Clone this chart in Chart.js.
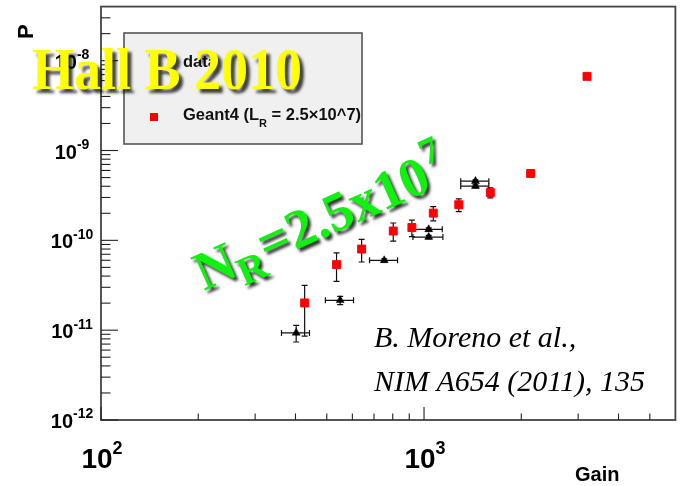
<!DOCTYPE html>
<html>
<head>
<meta charset="utf-8">
<script src="https://cdn.jsdelivr.net/npm/chart.js@4.4.1/dist/chart.umd.min.js"></script>
<style>
  html, body { margin: 0; padding: 0; background: #fff; }
  canvas { display: block; }
</style>
</head>
<body>
<canvas id="c" width="682" height="486"></canvas>
<script>
// Geant4 simulation, L_R = 2.5e7 (red squares, vertical errors only)
const g4Gain = [427, 536, 641, 803, 917, 1068, 1281, 1604, 2138, 3195];
const g4P    = [2.01e-11, 5.37e-11, 8.0e-11, 1.27e-10, 1.39e-10, 2.01e-10, 2.49e-10, 3.40e-10, 5.55e-10, 6.69e-9];
const g4PErr = [1.15e-11, 1.87e-11, 2.26e-11, 2.9e-11, 2.9e-11, 3.6e-11, 4.0e-11, 4.3e-11, 3.0e-11, 0];

// Measured data (black triangles, errors in both gain and P)
const dataGain    = [402, 550, 753, 1034, 1034, 1443, 1443];
const dataGainErr = [40, 55, 75, 105, 110, 144, 144];
const dataP       = [9.33e-12, 2.15e-11, 5.99e-11, 1.325e-10, 1.088e-10, 4.56e-10, 4.01e-10];
const dataPErr    = [1.95e-12, 2.3e-12, 2.5e-12, 5e-12, 5e-12, 1.5e-11, 1.5e-11];

// Axis ranges and tick decades
const xRange = [100, 6000];
const yRange = [1e-12, 4e-8];
const xDecades = [2, 3];               // labelled powers of ten on the gain axis
const yDecades = [-12, -11, -10, -9, -8];
const minorSteps = [2, 3, 4, 5, 6, 7, 8, 9];

const legendLabels = ['data', 'Geant4 (L', 'R', ' = 2.5\u00d710^7)'];
const xTitle = 'Gain';
const yTitle = 'P';

const SANS = '"Liberation Sans", Arial, Helvetica, sans-serif';
const SERIF = '"Liberation Serif", "Times New Roman", serif';
const INK = '#222';

function pts(xs, ys) { return xs.map((x, i) => ({ x: x, y: ys[i] })); }

// Draws "10" with a raised exponent, centred horizontally on cx
function drawPower(ctx, exp, cx, midY, baseSize, expSize, rise) {
  ctx.font = 'bold ' + baseSize + 'px ' + SANS;
  const wb = ctx.measureText('10').width;
  ctx.font = 'bold ' + expSize + 'px ' + SANS;
  const we = ctx.measureText(String(exp)).width;
  const x0 = cx - (wb + we) / 2;
  ctx.textBaseline = 'middle';
  ctx.textAlign = 'left';
  ctx.font = 'bold ' + baseSize + 'px ' + SANS;
  ctx.fillText('10', x0, midY);
  ctx.font = 'bold ' + expSize + 'px ' + SANS;
  ctx.fillText(String(exp), x0 + wb, midY - rise);
}

const errorBars = {
  id: 'errorBars',
  beforeDatasetsDraw(chart) {
    const ctx = chart.ctx, xs = chart.scales.x, ys = chart.scales.y;
    const a = chart.chartArea;
    ctx.save();
    ctx.beginPath();
    ctx.rect(a.left, a.top, a.right - a.left, a.bottom - a.top);
    ctx.clip();
    ctx.strokeStyle = '#111';
    ctx.lineWidth = 1.2;
    const cap = 3;
    const seg = (x1, y1, x2, y2) => { ctx.beginPath(); ctx.moveTo(x1, y1); ctx.lineTo(x2, y2); ctx.stroke(); };
    // vertical errors
    const vert = (gx, py, pe) => {
      if (!pe) return;
      const x = xs.getPixelForValue(gx);
      const yt = ys.getPixelForValue(py + pe);
      const yb = ys.getPixelForValue(Math.max(py - pe, yRange[0]));
      seg(x, yt, x, yb);
      seg(x - cap, yt, x + cap, yt);
      seg(x - cap, yb, x + cap, yb);
    };
    g4Gain.forEach((g, i) => vert(g, g4P[i], g4PErr[i]));
    dataGain.forEach((g, i) => {
      vert(g, dataP[i], dataPErr[i]);
      const y = ys.getPixelForValue(dataP[i]);
      const xl = xs.getPixelForValue(g - dataGainErr[i]);
      const xr = xs.getPixelForValue(g + dataGainErr[i]);
      seg(xl, y, xr, y);
      seg(xl, y - cap, xl, y + cap);
      seg(xr, y - cap, xr, y + cap);
    });
    ctx.restore();
  }
};

const frameAxes = {
  id: 'frameAxes',
  beforeDraw(chart) {
    const ctx = chart.ctx;
    ctx.save();
    ctx.fillStyle = '#fff';
    ctx.fillRect(0, 0, chart.width, chart.height);
    ctx.restore();
  },
  afterDatasetsDraw(chart) {
    const ctx = chart.ctx, xs = chart.scales.x, ys = chart.scales.y;
    const a = chart.chartArea;
    ctx.save();
    ctx.strokeStyle = '#444';
    ctx.lineWidth = 1.8;
    ctx.strokeRect(a.left, a.top, a.right - a.left, a.bottom - a.top);
    ctx.lineWidth = 1.1;
    ctx.strokeStyle = INK;
    const line = (x1, y1, x2, y2) => { ctx.beginPath(); ctx.moveTo(x1, y1); ctx.lineTo(x2, y2); ctx.stroke(); };
    // gain axis ticks (inside the frame)
    for (let d = xDecades[0]; d <= xDecades[xDecades.length - 1] + 1; d++) {
      const base = Math.pow(10, d);
      if (base >= xRange[0] && base <= xRange[1]) {
        const x = xs.getPixelForValue(base);
        line(x, a.bottom, x, a.bottom - 13);
      }
      minorSteps.forEach(m => {
        const v = m * base;
        if (v > xRange[0] && v < xRange[1]) {
          const x = xs.getPixelForValue(v);
          line(x, a.bottom, x, a.bottom - 6.5);
        }
      });
    }
    // P axis ticks
    yDecades.forEach(d => {
      const base = Math.pow(10, d);
      const y = ys.getPixelForValue(base);
      line(a.left, y, a.left + 17, y);
      minorSteps.forEach(m => {
        const v = m * base;
        if (v < yRange[1]) {
          const yy = ys.getPixelForValue(v);
          line(a.left, yy, a.left + 9.5, yy);
        }
      });
    });
    // tick labels
    ctx.fillStyle = '#000';
    yDecades.forEach(d => {
      const y = ys.getPixelForValue(Math.pow(10, d));
      drawPower(ctx, d, 72, y + 2.5, 20, 14, 8);
    });
    xDecades.forEach(d => {
      const x = xs.getPixelForValue(Math.pow(10, d));
      drawPower(ctx, d, x + 1, 460, 28, 18, 11);
    });
    // axis titles
    ctx.font = 'bold 20px ' + SANS;
    ctx.textAlign = 'left';
    ctx.textBaseline = 'alphabetic';
    ctx.fillText(xTitle, 575, 481);
    ctx.save();
    ctx.translate(33, 39);
    ctx.rotate(-Math.PI / 2);
    ctx.font = 'bold 22px ' + SANS;
    ctx.fillText(yTitle, 0, 0);
    ctx.restore();
    ctx.restore();
  },
  afterDraw(chart) {
    const ctx = chart.ctx;
    ctx.save();
    // legend box
    ctx.fillStyle = '#f0f0f0';
    ctx.fillRect(124, 33, 238, 111);
    ctx.strokeStyle = '#555';
    ctx.lineWidth = 1.6;
    ctx.strokeRect(124, 33, 238, 111);
    const dsData = chart.data.datasets[0], dsG4 = chart.data.datasets[1];
    // data entry: triangle
    ctx.fillStyle = dsData.backgroundColor;
    ctx.beginPath();
    ctx.moveTo(155, 57); ctx.lineTo(159.5, 65); ctx.lineTo(150.5, 65); ctx.closePath();
    ctx.fill();
    ctx.fillStyle = '#111';
    ctx.font = 'bold 16.5px ' + SANS;
    ctx.textBaseline = 'alphabetic';
    ctx.textAlign = 'left';
    ctx.fillText(legendLabels[0], 183, 67);
    // Geant4 entry: square
    ctx.fillStyle = dsG4.backgroundColor;
    ctx.fillRect(150, 113, 8, 8);
    ctx.fillStyle = '#111';
    let x = 183;
    ctx.font = 'bold 16.5px ' + SANS;
    ctx.fillText(legendLabels[1], x, 120);
    x += ctx.measureText(legendLabels[1]).width;
    ctx.font = 'bold 11px ' + SANS;
    ctx.fillText(legendLabels[2], x, 127);
    x += ctx.measureText(legendLabels[2]).width;
    ctx.font = 'bold 16.5px ' + SANS;
    ctx.fillText(legendLabels[3], x, 120);

    // citation
    ctx.font = 'italic 30px ' + SERIF;
    ctx.fillStyle = '#000';
    ctx.fillText('B. Moreno et al.,', 374, 347);
    ctx.fillText('NIM A654 (2011), 135', 374, 391);

    // green annotation
    ctx.save();
    ctx.shadowColor = 'rgba(0,0,0,0.8)';
    ctx.shadowOffsetX = 3;
    ctx.shadowOffsetY = 3;
    ctx.shadowBlur = 3;
    ctx.fillStyle = '#11f011';
    ctx.translate(204, 291);
    ctx.rotate(-24 * Math.PI / 180);
    let gx = 0;
    ctx.font = 'bold 55px ' + SERIF;
    ctx.fillText('N', gx, 0); gx += ctx.measureText('N').width;
    ctx.font = 'bold 40px ' + SERIF;
    ctx.fillText('R', gx - 1, 12); gx += ctx.measureText('R').width;
    ctx.font = 'bold 55px ' + SERIF;
    ctx.fillText('=2.5x10', gx, 0); gx += ctx.measureText('=2.5x10').width;
    ctx.font = 'bold 38px ' + SERIF;
    ctx.fillText('7', gx + 2, -24);
    ctx.restore();

    // yellow title
    ctx.save();
    ctx.shadowColor = 'rgba(0,0,0,0.75)';
    ctx.shadowOffsetX = 4;
    ctx.shadowOffsetY = 4;
    ctx.shadowBlur = 3;
    ctx.fillStyle = '#ffff00';
    ctx.translate(32, 89);
    ctx.scale(0.9, 1);
    ctx.font = 'bold 60px ' + SERIF;
    ctx.fillText('Hall B 2010', 0, 0);
    ctx.restore();
    ctx.restore();
  }
};

new Chart(document.getElementById('c'), {
  type: 'scatter',
  data: {
    datasets: [
      {
        label: legendLabels[0],
        data: pts(dataGain, dataP),
        pointStyle: 'triangle',
        pointRadius: 4.6,
        backgroundColor: '#000',
        borderColor: '#000',
        borderWidth: 0.5
      },
      {
        label: 'Geant4',
        data: pts(g4Gain, g4P),
        pointStyle: 'rect',
        pointRadius: 5.6,
        backgroundColor: '#ff0000',
        borderColor: '#ff0000',
        borderWidth: 1
      }
    ]
  },
  options: {
    responsive: false,
    animation: false,
    devicePixelRatio: 1,
    layout: { padding: { left: 101, right: 3, top: 6, bottom: 66 } },
    plugins: { legend: { display: false }, tooltip: { enabled: false } },
    scales: {
      x: { type: 'logarithmic', min: xRange[0], max: xRange[1], display: false },
      y: { type: 'logarithmic', min: yRange[0], max: yRange[1], display: false }
    }
  },
  plugins: [errorBars, frameAxes]
});
</script>
</body>
</html>
